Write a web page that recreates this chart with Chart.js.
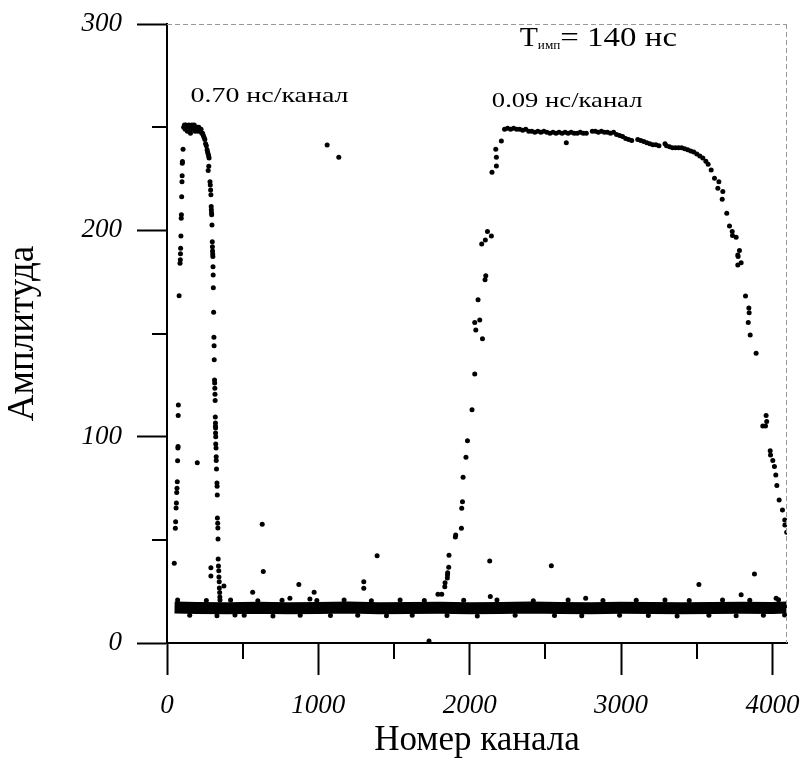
<!DOCTYPE html>
<html>
<head>
<meta charset="utf-8">
<script src="https://cdn.jsdelivr.net/npm/chart.js@4"></script>
<style>
    html, body { margin: 0; padding: 0; background: #fff; }
    #wrap { width: 806px; height: 762px; }
</style>
</head>
<body>
<div id="wrap"><canvas id="chart" width="806" height="762"></canvas></div>
<script>
// Amplitude vs channel number, two pulse digitisations (0.70 and 0.09 ns/channel)

// ── Axis ticks ──
const X_MAJOR = [0, 1000, 2000, 3000, 4000];
const X_MINOR = [500, 1500, 2500, 3500];
const Y_MAJOR = [0, 100, 200, 300];
const Y_MINOR = [50, 150, 250];

// ── Baseline (noise band around amplitude ~17) ──
const baseCh  = [50, 200, 400, 600, 800, 1000, 1200, 1400, 1600, 1800, 2000, 2200,
                 2400, 2600, 2800, 3000, 3200, 3400, 3600, 3800, 4000, 4096];
const baseAmp = [17.2, 17.0, 16.8, 17.1, 16.9, 17.0, 17.2, 16.9, 17.0, 17.1, 16.9, 17.0,
                 17.2, 17.0, 16.9, 17.1, 17.0, 16.8, 17.0, 17.1, 17.0, 17.2];

// ragged edge dots of the band
const noiseCh  = [70, 150, 260, 330, 420, 510, 600, 700, 760, 880, 990, 1080, 1170, 1260,
                  1350, 1450, 1540, 1620, 1700, 1850, 1960, 2050, 2180, 2300, 2420, 2560,
                  2650, 2740, 2880, 2990, 3100, 3180, 3290, 3370, 3450, 3580, 3670, 3760,
                  3850, 3940, 4040, 4080];
const noiseAmp = [20.8, 13.4, 20.6, 13.2, 20.9, 13.5, 20.5, 13.1, 20.7, 13.4, 20.6, 13.3, 20.8, 13.5,
                  20.5, 13.2, 20.9, 13.4, 20.6, 13.3, 20.7, 13.1, 20.8, 13.4, 20.5, 13.3,
                  20.9, 13.2, 20.6, 13.5, 20.7, 13.3, 20.8, 13.1, 20.6, 13.4, 20.9, 13.2,
                  20.7, 13.5, 21.0, 13.6];

// ── Pulse 1: 0.70 ns/channel ──
const peak1Ch  = [48, 55, 57, 60, 62, 64, 66, 68, 70, 72, 73, 74, 75, 80, 86, 88, 89, 90, 92,
                  94, 95, 97, 99, 100, 101, 102, 106,
                  110, 115, 120, 125, 130, 135, 140, 145, 150, 155, 160, 165, 170, 175, 180,
                  185, 190, 195, 200, 205, 210, 215, 220, 225, 230, 235, 240, 245, 250, 255,
                  260, 265, 268, 272, 275, 278, 276, 272,
                  284, 286, 288, 290, 292, 293, 294, 295, 297, 299, 300, 301, 302, 303, 304,
                  305, 306, 308, 310, 311, 312, 314, 315, 316, 317, 318, 319, 320, 320, 321,
                  321, 322, 322, 324, 325, 325, 327,
                  330, 331, 332, 333, 335, 336, 337, 338, 340, 342, 343, 345, 346, 348, 349, 350,
                  290, 290, 376, 200];
const peak1Amp = [38.6, 55.6, 58.8, 65.4, 67.8, 73, 75, 78.2, 88.3, 94.5, 95.2, 110.2, 115.4, 168.3,
                  184.1, 185.7, 188.6, 191.3, 197.3, 205.8, 207.5, 216.3, 223.6, 226.4, 232.5, 233.3, 239.3,
                  250, 251, 249, 251, 250, 248, 250, 251, 248, 247, 250, 251, 249, 250, 251,
                  248, 250, 249, 250, 248, 250, 249, 248, 249, 247, 247, 246, 245, 244, 242,
                  241, 239, 238, 237, 236, 235, 231, 229,
                  223.6, 222, 219.6, 217.2, 211.5, 210, 208.5, 207.5, 202.6, 194.5, 192, 190, 188.5,
                  187.3, 182.4, 178.4, 172.2, 160.3, 148.2, 144.1, 137.3, 127.5, 126, 123.5, 120.6,
                  117.5, 109.5, 106.6, 105, 104.2, 101.8, 99.9, 96.5, 94.5, 90.3, 88.5, 84.3,
                  77.5, 76, 71.7, 60.6, 58, 55.7, 50.4, 40.7, 37.3, 35, 32, 29.7, 26.7, 24.5, 22.3, 20.8,
                  36.5, 32.5, 27.6, 87.4];

// ── Pulse 2: 0.09 ns/channel ──
const peak2Ch  = [1790, 1815, 1835, 1837, 1852, 1853, 1854, 1861, 1863, 1905, 1907, 1945,
                  1947, 1952, 1956, 1975, 1985, 2015, 2033, 2033, 2040, 2066, 2084, 2055,
                  2101, 2106, 2079, 2103, 2117, 2143, 2147, 2176, 2176, 2172, 2209,
                  2230, 2250, 2270, 2290, 2310, 2330, 2350, 2370, 2390, 2410, 2430, 2450,
                  2470, 2490, 2510, 2530, 2550, 2570, 2590, 2610, 2630, 2650, 2670, 2690,
                  2710, 2730, 2750, 2770, 2810, 2830, 2850, 2870, 2890, 2910, 2930, 2950,
                  2970, 2990, 3010, 3030, 3050, 3070, 3110, 3130, 3150, 3170, 3190, 3210,
                  3230, 3250, 3290, 3300, 3320, 3340, 3360, 3380, 3400, 3420, 3440, 3460,
                  3480, 3500, 3520, 3540, 3560, 3575,
                  3595, 3617, 3646, 3639, 3672, 3668, 3698, 3716, 3734, 3736, 3760, 3782,
                  3771, 3773, 3771, 3793, 3822, 3844, 3846, 3840, 3853, 3892, 3958, 3962,
                  3936, 3954, 3985, 3987, 4002, 4013, 4022, 4029, 4044, 4066, 4081, 4082, 4094];
const peak2Amp = [23.6, 23.6, 27.3, 29.2, 31.5, 33, 34, 36.7, 42.5, 51.4, 52.3, 55.6,
                  65.3, 68.5, 80.3, 90, 98, 113, 130.4, 155.3, 151.7, 156.6, 147.4, 166.3,
                  176, 178, 193.4, 195.3, 199.4, 197.3, 228.2, 231.2, 235.4, 239.3, 243.3,
                  249, 249.5, 249, 249.5, 249, 249, 248.5, 249, 248, 248, 247.5, 248,
                  247.5, 248, 247.5, 247, 247.5, 247, 247.5, 247, 247.5, 247, 247.5, 247,
                  247, 247.5, 247, 247, 248, 248, 247.5, 248, 247.5, 247.5, 247, 247.5,
                  246.5, 246, 245.5, 244.5, 244, 243.5, 244, 243.5, 243, 242.5, 242, 241.5,
                  241.5, 241, 242, 241, 240.5, 240, 240, 240, 240, 239.5, 239, 238.5,
                  238, 237, 236, 235, 233.5, 232,
                  229.3, 225.3, 223.6, 220.4, 218.8, 215.1, 208.3, 202.1, 199.4, 197.5, 196.7, 190.2,
                  188.1, 187.3, 183.2, 184.3, 168.2, 162.4, 160, 155.3, 149.3, 140.4, 110.2, 107.3,
                  105.2, 105.2, 93.2, 91.1, 88.4, 85.5, 81.4, 76.3, 69.3, 64.5, 59.6, 57.2, 53.7];

// ── Stray counts ──
const strayCh  = [1058, 1135, 629, 636, 566, 871, 812, 944, 972, 1300, 1300, 1388, 1731,
                  2132, 2136, 2539, 2766, 3514, 3793, 3881, 4024, 2638, 449];
const strayAmp = [241.4, 235.4, 57.5, 34.6, 24.6, 28.4, 21.7, 21.3, 24.6, 29.7, 26.5, 42.3, 1,
                  39.7, 22.5, 37.5, 21.7, 28.4, 23.4, 33.4, 21.7, 242.5, 13.6];

// ──────────────────────────────────────────────
const SERIF = "'Liberation Serif', 'Times New Roman', serif";
const toPoints = (xs, ys) => xs.map((x, i) => ({ x: x, y: ys[i] }));

function dots(xs, ys) {
    return {
        data: toPoints(xs, ys),
        pointRadius: 2.5,
        pointBackgroundColor: '#000',
        pointBorderWidth: 0,
        showLine: false,
    };
}

// text drawn with a slight horizontal stretch (the scanned figure uses a wide face)
function wideText(ctx, text, x, y, stretch) {
    ctx.save();
    ctx.translate(x, y);
    ctx.scale(stretch, 1);
    ctx.fillText(text, 0, 0);
    ctx.restore();
    return ctx.measureText(text).width * stretch;
}

// minor ticks, dashed frame and text labels
const decorPlugin = {
    id: 'decor',
    afterDraw(chart) {
        const { ctx, chartArea: a, scales: { x, y } } = chart;
        ctx.save();

        // dashed top / right frame
        ctx.strokeStyle = '#999';
        ctx.lineWidth = 1;
        ctx.setLineDash([5, 3]);
        ctx.beginPath();
        ctx.moveTo(a.left, a.top + 0.5);
        ctx.lineTo(a.right, a.top + 0.5);
        ctx.moveTo(a.right - 0.5, a.top);
        ctx.lineTo(a.right - 0.5, a.bottom);
        ctx.stroke();
        ctx.setLineDash([]);

        // minor ticks
        ctx.strokeStyle = '#000';
        ctx.lineWidth = 2;
        ctx.beginPath();
        X_MINOR.forEach(v => {
            const px = Math.round(x.getPixelForValue(v));
            ctx.moveTo(px, a.bottom);
            ctx.lineTo(px, a.bottom + 16);
        });
        Y_MINOR.forEach(v => {
            const py = Math.round(y.getPixelForValue(v));
            ctx.moveTo(a.left, py);
            ctx.lineTo(a.left - 15, py);
        });
        ctx.stroke();

        // annotations
        ctx.fillStyle = '#000';
        ctx.textBaseline = 'alphabetic';
        ctx.textAlign = 'left';
        ctx.font = `22px ${SERIF}`;
        wideText(ctx, '0.70 нс/канал', x.getPixelForValue(155), y.getPixelForValue(262), 1.27);
        wideText(ctx, '0.09 нс/канал', x.getPixelForValue(2146), y.getPixelForValue(260), 1.21);

        let tx = x.getPixelForValue(2330);
        const ty = y.getPixelForValue(289.5);
        ctx.font = `27px ${SERIF}`;
        tx += wideText(ctx, 'T', tx, ty, 1.1);
        ctx.font = `12px ${SERIF}`;
        tx += wideText(ctx, 'имп', tx, ty + 3, 1.1);
        ctx.font = `27px ${SERIF}`;
        wideText(ctx, '= 140 нс', tx, ty, 1.22);

        ctx.restore();
    }
};

new Chart(document.getElementById('chart'), {
    type: 'scatter',
    data: {
        datasets: [
            {
                data: toPoints(baseCh, baseAmp),
                showLine: true,
                borderColor: '#000',
                borderWidth: 12,
                pointRadius: 0,
                tension: 0,
            },
            dots(noiseCh, noiseAmp),
            dots(peak1Ch, peak1Amp),
            dots(peak2Ch, peak2Amp),
            dots(strayCh, strayAmp),
        ]
    },
    options: {
        responsive: false,
        animation: false,
        layout: { padding: { top: 24, right: 19, left: 0, bottom: 0 } },
        plugins: {
            legend: { display: false },
            tooltip: { enabled: false },
        },
        scales: {
            x: {
                type: 'linear',
                min: 0,
                max: 4096,
                afterBuildTicks: (s) => { s.ticks = X_MAJOR.map(v => ({ value: v })); },
                afterFit: (s) => { s.height = 119; s.paddingLeft = 0; s.paddingRight = 0; },
                border: { display: true, color: '#000', width: 2 },
                grid: {
                    drawOnChartArea: false,
                    drawTicks: true,
                    tickLength: 32,
                    tickWidth: 2,
                    tickColor: '#000',
                },
                ticks: {
                    color: '#000',
                    padding: 15,
                    maxRotation: 0,
                    callback: (v) => String(v),
                    font: { family: SERIF, size: 27, style: 'italic' },
                },
                title: {
                    display: true,
                    text: 'Номер канала',
                    color: '#000',
                    font: { family: SERIF, size: 35 },
                    padding: { top: 0, bottom: 0 },
                },
            },
            y: {
                type: 'linear',
                min: 0,
                max: 300,
                afterBuildTicks: (s) => { s.ticks = Y_MAJOR.map(v => ({ value: v })); },
                afterFit: (s) => { s.width = 167; s.paddingTop = 0; s.paddingBottom = 0; },
                border: { display: true, color: '#000', width: 2 },
                grid: {
                    drawOnChartArea: false,
                    drawTicks: true,
                    tickLength: 30,
                    tickWidth: 2,
                    tickColor: '#000',
                },
                ticks: {
                    color: '#000',
                    padding: 15,
                    callback: (v) => String(v),
                    font: { family: SERIF, size: 27, style: 'italic' },
                },
                title: {
                    display: true,
                    text: 'Амплитуда',
                    color: '#000',
                    font: { family: SERIF, size: 37 },
                    padding: { top: 1, bottom: 0 },
                },
            },
        },
    },
    plugins: [decorPlugin],
});
</script>
</body>
</html>
